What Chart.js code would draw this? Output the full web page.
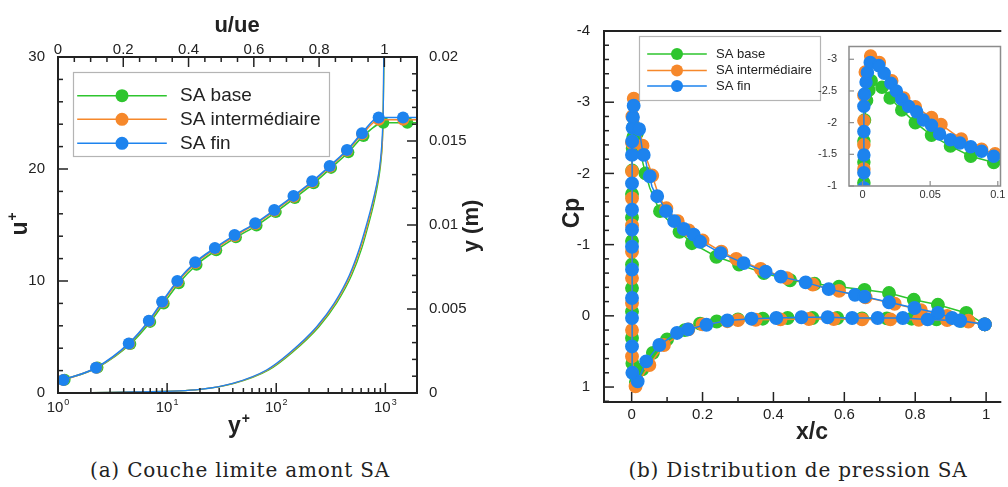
<!DOCTYPE html>
<html>
<head>
<meta charset="utf-8">
<script src="https://cdn.jsdelivr.net/npm/chart.js@4.4.0/dist/chart.umd.min.js"></script>
<style>
  body { margin: 0; background: #fff; width: 1008px; height: 487px; overflow: hidden; position: relative; }
  canvas { position: absolute; }
  #left { left: 0; top: 0; }
  #right { left: 530px; top: 0; }
  #zoom { left: 810px; top: 36px; }
  .cap { position: absolute; top: 458px; font-family: "DejaVu Serif", serif; font-size: 20px; letter-spacing: 0.8px;
         color: #222; white-space: nowrap; transform: translateX(-50%); }
</style>
</head>
<body>
<canvas id="left" width="500" height="445"></canvas>
<canvas id="right" width="478" height="445"></canvas>
<canvas id="zoom" width="198" height="170"></canvas>
<div class="cap" style="left:240px">(a) Couche limite amont SA</div>
<div class="cap" style="left:798px">(b) Distribution de pression SA</div>

<script>
// series names / colours (base, intermédiaire, fin)
var names = ['SA base', 'SA intermédiaire', 'SA fin'];
var colors = ['#2ec52e', '#f6882b', '#1d83ee'];

// (a) u+ vs y+  (last point = end of the flat line, no marker)
var yPlusBase  = [1.15, 2.3, 4.6, 7.0, 9.3, 12.8, 18.6, 28.2, 42.7, 66, 99, 148, 220, 318, 458, 630, 958, 1590, 1950];
var uPlusBase  = [1.18, 2.28, 4.38, 6.35, 8.0, 9.8, 11.45, 12.75, 13.9, 14.95, 16.15, 17.42, 18.72, 20.1, 21.5, 22.95, 24.13, 24.13, 24.13];
var yPlusInter = [1.12, 2.25, 4.5, 6.85, 9.1, 12.5, 18.2, 27.6, 41.8, 64.5, 96.5, 145, 215, 311, 447, 614, 872, 1460, 1950];
var uPlusInter = [1.16, 2.25, 4.4, 6.42, 8.1, 9.93, 11.6, 12.88, 14.02, 15.08, 16.27, 17.53, 18.83, 20.2, 21.63, 23.1, 24.4, 24.4, 24.4];
var yPlusFin   = [1.12, 2.23, 4.45, 6.8, 9.0, 12.4, 18.1, 27.4, 41.5, 64.2, 96, 144, 214, 309, 445, 611, 868, 1453, 1950];
var uPlusFin   = [1.16, 2.26, 4.43, 6.46, 8.15, 10.0, 11.67, 12.95, 14.1, 15.15, 16.34, 17.6, 18.9, 20.27, 21.7, 23.2, 24.6, 24.6, 24.6];

// (a) velocity profile u/ue vs y (m)
var yProfile = [0, 0.00006, 0.00021, 0.00057, 0.00137, 0.00238, 0.00393, 0.00536, 0.00702, 0.00863, 0.0100, 0.0113, 0.01268, 0.01387, 0.01548, 0.01744, 0.02];
var uueBase  = [0, 0.229, 0.435, 0.54, 0.646, 0.716, 0.799, 0.854, 0.9, 0.931, 0.951, 0.968, 0.982, 0.99, 0.995, 0.997, 0.999];
var uueInter = [0, 0.229, 0.434, 0.537, 0.642, 0.712, 0.795, 0.85, 0.896, 0.927, 0.948, 0.965, 0.98, 0.989, 0.995, 0.997, 0.998];
var uueFin   = [0, 0.229, 0.434, 0.535, 0.639, 0.709, 0.792, 0.847, 0.893, 0.924, 0.945, 0.963, 0.979, 0.988, 0.994, 0.997, 0.998];

// (b) Cp along the profile: lower surface TE -> LE, leading edge, upper surface LE -> TE
var xcBase = [0.996, 0.93, 0.86, 0.79, 0.72, 0.65, 0.58, 0.51, 0.44, 0.37, 0.3, 0.24, 0.193, 0.15, 0.1, 0.06, 0.03, 0.012,
  0.002, 0.001, 0.001, 0.001, 0.001, 0.001, 0.001, 0.001, 0.0015, 0.003, 0.0047, 0.0064,
  0.0144, 0.0204, 0.029, 0.039, 0.051, 0.065, 0.08, 0.097, 0.135, 0.17, 0.239, 0.303, 0.373, 0.447, 0.516, 0.585, 0.657, 0.726, 0.796, 0.864, 0.944, 0.996];
var cpBase = [0.12, 0.07, 0.05, 0.04, 0.035, 0.035, 0.03, 0.03, 0.03, 0.04, 0.05, 0.08, 0.11, 0.2, 0.33, 0.52, 0.75, 0.93,
  0.665, 0.31, -0.06, -0.39, -0.72, -1.05, -1.38, -1.71, -2.04, -2.35, -2.51, -2.66,
  -2.56, -2.39, -2.2, -2.0, -1.8, -1.63, -1.47, -1.37, -1.18, -1.02, -0.83, -0.72, -0.6, -0.5, -0.45, -0.41, -0.365, -0.32, -0.225, -0.155, -0.04, 0.12];
var xcInter = [0.996, 0.95, 0.89, 0.81, 0.73, 0.65, 0.57, 0.5, 0.42, 0.35, 0.3, 0.27, 0.2, 0.16, 0.091, 0.05, 0.011,
  0.001, 0.001, 0.001, 0.001, 0.001, 0.001, 0.001, 0.001, 0.001, 0.002, 0.006,
  0.0124, 0.0216, 0.0305, 0.039, 0.051, 0.058, 0.073, 0.088, 0.098, 0.13, 0.161, 0.2, 0.253, 0.295, 0.364, 0.438, 0.511, 0.585, 0.66, 0.742, 0.816, 0.89, 0.95, 0.996];
var cpInter = [0.12, 0.08, 0.06, 0.055, 0.05, 0.05, 0.045, 0.045, 0.05, 0.055, 0.06, 0.075, 0.12, 0.19, 0.41, 0.69, 0.99,
  0.57, 0.2, -0.18, -0.53, -0.9, -1.27, -1.65, -2.03, -2.43, -2.8, -3.05,
  -2.95, -2.66, -2.39, -2.25, -2.08, -1.97, -1.74, -1.58, -1.51, -1.33, -1.2, -1.06, -0.9, -0.8, -0.66, -0.53, -0.44, -0.35, -0.26, -0.17, -0.08, 0.0, 0.07, 0.12];
var xcFin = [0.996, 0.925, 0.835, 0.765, 0.694, 0.622, 0.553, 0.479, 0.408, 0.338, 0.27, 0.211, 0.159, 0.128, 0.078, 0.041, 0.017, 0.002,
  0.001, 0.001, 0.001, 0.001, 0.001, 0.001, 0.001, 0.001, 0.001, 0.0015, 0.0026, 0.0036, 0.0057,
  0.012, 0.016, 0.021, 0.025, 0.029, 0.034, 0.04, 0.045, 0.051, 0.057, 0.065, 0.072, 0.08, 0.088, 0.097, 0.12,
  0.147, 0.175, 0.193, 0.251, 0.316, 0.378, 0.421, 0.491, 0.556, 0.63, 0.657, 0.726, 0.798, 0.864, 0.904, 0.927, 0.996];
var cpFin = [0.12, 0.07, 0.05, 0.03, 0.03, 0.03, 0.02, 0.02, 0.03, 0.04, 0.065, 0.126, 0.19, 0.24, 0.41, 0.64, 0.92, 0.80,
  0.43, 0.03, -0.25, -0.65, -0.97, -1.21, -1.49, -1.86, -2.26, -2.45, -2.64, -2.79, -2.95,
  -2.9, -2.78, -2.62, -2.5, -2.37, -2.26, -2.17, -2.04, -1.96, -1.82, -1.73, -1.68, -1.62, -1.55, -1.47, -1.33,
  -1.22, -1.14, -1.04, -0.88, -0.74, -0.62, -0.55, -0.47, -0.375, -0.295, -0.27, -0.19, -0.11, -0.04, 0.03, 0.065, 0.12];

// tick labels
var yPlusTicks = [1, 10, 100, 1000];
var uueTicks = [0, 0.2, 0.4, 0.6, 0.8, 1];
var uPlusTicks = [0, 10, 20, 30];
var ymTicks = [0, 0.005, 0.01, 0.015, 0.02];
var xcTicks = [0, 0.2, 0.4, 0.6, 0.8, 1];
var cpTicks = [-4, -3, -2, -1, 0, 1];
var zoomXTicks = [0, 0.05, 0.1];
var zoomCpTicks = [-3, -2.5, -2, -1.5, -1];

var FONT = '"Liberation Sans", Arial, sans-serif';
var INK = '#222';

function pts(xs, ys) {
  return xs.map(function (x, i) { return { x: x, y: ys[i] }; });
}
function noLastPoint(r) {
  return function (c) { return c.dataIndex === c.dataset.data.length - 1 ? 0 : r; };
}
// main view: skip markers along the dense upper leading edge (shown in the zoom)
function skipDense(r) {
  return function (c) {
    var p = c.raw;
    if (p && p.x > 0.008 && p.x < 0.1 && p.y < -1.3 && c.dataIndex % 3) return 0;
    return r;
  };
}
function steps(a, b, st, skip) {
  var out = [];
  for (var i = 0; a + i * st <= b + 1e-9; i++) {
    var v = +(a + i * st).toFixed(6);
    if (!skip.some(function (s) { return Math.abs(s - v) < 1e-9; })) out.push(v);
  }
  return out;
}
function logMinor(max) {
  var out = [];
  yPlusTicks.forEach(function (d) {
    for (var k = 2; k <= 9; k++) if (d * k <= max) out.push(d * k);
  });
  return out;
}
function fixed(list) {
  return function (s) { s.ticks = list.map(function (v) { return { value: v }; }); };
}
function size(w, h) {
  return function (s) { if (w != null) s.width = w; if (h != null) s.height = h; };
}
function label(v) { return String(v); }

function supText(ctx, base, sup, px, x, y, rot, bold) {
  ctx.save();
  ctx.translate(x, y);
  ctx.rotate(rot || 0);
  var f1 = (bold ? 'bold ' : '') + px + 'px ' + FONT;
  var f2 = (bold ? 'bold ' : '') + Math.round(px * 0.62) + 'px ' + FONT;
  ctx.font = f1;
  var w1 = ctx.measureText(base).width;
  ctx.font = f2;
  var w2 = sup ? ctx.measureText(sup).width + 1 : 0;
  var x0 = -(w1 + w2) / 2;
  ctx.fillStyle = INK;
  ctx.textAlign = 'left';
  ctx.textBaseline = 'middle';
  ctx.font = f1;
  ctx.fillText(base, x0, 0);
  if (sup) {
    ctx.font = f2;
    ctx.fillText(sup, x0 + w1 + 1, -px * 0.36);
  }
  ctx.restore();
}

// frame, inward ticks, titles and legend drawn like the original plotting tool
var framePlugin = {
  id: 'frame',
  beforeDraw: function (chart, args, o) {
    if (!o.fill) return;
    var a = chart.chartArea, ctx = chart.ctx;
    ctx.save();
    ctx.fillStyle = o.fill;
    ctx.fillRect(a.left, a.top, a.right - a.left, a.bottom - a.top);
    ctx.restore();
  },
  afterDraw: function (chart, args, o) {
    var ctx = chart.ctx, a = chart.chartArea;
    ctx.save();
    ctx.strokeStyle = o.color;
    ctx.lineWidth = o.tickWidth;
    (o.ticks || []).forEach(function (t) {
      var s = chart.scales[t.scale];
      [[t.major, o.majorLen], [t.minor || [], o.minorLen]].forEach(function (g) {
        g[0].forEach(function (v) {
          var p = s.getPixelForValue(v);
          ctx.beginPath();
          if (t.side === 'left') { if (p < a.top - 1 || p > a.bottom + 1) return; ctx.moveTo(a.left, p); ctx.lineTo(a.left + g[1], p); }
          if (t.side === 'right') { if (p < a.top - 1 || p > a.bottom + 1) return; ctx.moveTo(a.right, p); ctx.lineTo(a.right - g[1], p); }
          if (t.side === 'bottom') { if (p < a.left - 1 || p > a.right + 1) return; ctx.moveTo(p, a.bottom); ctx.lineTo(p, a.bottom - g[1]); }
          if (t.side === 'top') { if (p < a.left - 1 || p > a.right + 1) return; ctx.moveTo(p, a.top); ctx.lineTo(p, a.top + g[1]); }
          ctx.stroke();
        });
      });
    });
    ctx.lineWidth = o.width;
    ctx.lineCap = 'square';
    ctx.beginPath();
    o.sides.forEach(function (sd) {
      if (sd === 'left') { ctx.moveTo(a.left, a.top); ctx.lineTo(a.left, a.bottom); }
      if (sd === 'right') { ctx.moveTo(a.right, a.top); ctx.lineTo(a.right, a.bottom); }
      if (sd === 'top') { ctx.moveTo(a.left, a.top); ctx.lineTo(a.right, a.top); }
      if (sd === 'bottom') { ctx.moveTo(a.left, a.bottom); ctx.lineTo(a.right, a.bottom); }
    });
    ctx.stroke();

    // log axis labels 10^n
    if (o.logLabels) {
      var s = chart.scales[o.logLabels.scale];
      yPlusTicks.forEach(function (v) {
        supText(ctx, '10', String(Math.round(Math.log10(v))), 15, s.getPixelForValue(v), o.logLabels.y, 0, false);
      });
    }

    (o.titles || []).forEach(function (t) {
      supText(ctx, t.text, t.sup, t.px, t.x, t.y, t.rot, true);
    });

    if (o.legend) {
      var L = o.legend;
      ctx.fillStyle = '#fff';
      ctx.fillRect(L.x, L.y, L.w, L.h);
      ctx.strokeStyle = '#b4b4b4';
      ctx.lineWidth = 1.2;
      ctx.strokeRect(L.x + 0.5, L.y + 0.5, L.w, L.h);
      names.forEach(function (n, i) {
        var y = L.rows[i];
        ctx.strokeStyle = colors[i];
        ctx.lineWidth = 1.6;
        ctx.beginPath();
        ctx.moveTo(L.line[0], y);
        ctx.lineTo(L.line[1], y);
        ctx.stroke();
        ctx.fillStyle = colors[i];
        ctx.beginPath();
        ctx.arc((L.line[0] + L.line[1]) / 2, y, L.r, 0, Math.PI * 2);
        ctx.fill();
        ctx.fillStyle = INK;
        ctx.font = L.px + 'px ' + FONT;
        ctx.textAlign = 'left';
        ctx.textBaseline = 'middle';
        ctx.fillText(n, L.text, y);
      });
    }
    ctx.restore();
  }
};

var tickFont = { family: FONT, size: 15 };
var common = {
  responsive: false,
  animation: false,
  devicePixelRatio: 1,
  events: [],
  layout: { padding: 0 },
  elements: {
    point: { pointStyle: 'circle', borderWidth: 0, hoverRadius: 0 },
    line: { borderWidth: 1.6 }
  }
};
function opts(extra) { return Object.assign({}, common, extra); }
function hidden() { return { display: false }; }

// ---------- (a) boundary layer ----------
var leftSets = [];
[[yPlusBase, uPlusBase, uueBase], [yPlusInter, uPlusInter, uueInter], [yPlusFin, uPlusFin, uueFin]].forEach(function (s, i) {
  leftSets.push({
    label: names[i], data: pts(s[0], s[1]), xAxisID: 'x', yAxisID: 'y',
    borderColor: colors[i], backgroundColor: colors[i], pointRadius: noLastPoint(6),
    cubicInterpolationMode: 'monotone', order: 3 - i
  });
  leftSets.push({
    data: pts(s[2], yProfile), xAxisID: 'x2', yAxisID: 'y2',
    borderColor: colors[i], backgroundColor: colors[i], pointRadius: 0, borderWidth: 1.3,
    cubicInterpolationMode: 'monotone', order: 6 - i
  });
});

new Chart(document.getElementById('left'), {
  type: 'line',
  data: { datasets: leftSets },
  options: opts({
    plugins: {
      legend: { display: false }, tooltip: { enabled: false },
      frame: {
        color: INK, width: 2, tickWidth: 1.5, majorLen: 10, minorLen: 5,
        sides: ['left', 'right', 'top', 'bottom'],
        ticks: [
          { scale: 'y', side: 'left', major: uPlusTicks, minor: steps(0, 30, 2, uPlusTicks) },
          { scale: 'y2', side: 'right', major: ymTicks, minor: steps(0, 0.02, 0.001, ymTicks) },
          { scale: 'x2', side: 'top', major: uueTicks, minor: steps(0, 1.1, 0.05, uueTicks) },
          { scale: 'x', side: 'bottom', major: yPlusTicks, minor: logMinor(1950) }
        ],
        logLabels: { scale: 'x', y: 408 },
        titles: [
          { text: 'u/ue', px: 22, x: 237, y: 26 },
          { text: 'u', sup: '+', px: 23, x: 21, y: 224, rot: -Math.PI / 2 },
          { text: 'y', sup: '+', px: 23, x: 239, y: 427 },
          { text: 'y (m)', px: 22, x: 472, y: 226, rot: -Math.PI / 2 }
        ],
        legend: { x: 73, y: 72, w: 256, h: 84, rows: [95.7, 119.3, 143.3], line: [78, 166], r: 6.5, text: 180, px: 19 }
      }
    },
    scales: {
      x: { type: 'logarithmic', position: 'bottom', min: 1, max: 1950,
           grid: hidden(), border: hidden(), ticks: { display: false },
           afterBuildTicks: fixed(yPlusTicks), afterFit: size(null, 52) },
      x2: { type: 'linear', position: 'top', min: 0, max: 1.1,
            grid: hidden(), border: hidden(),
            ticks: { font: tickFont, color: INK, padding: -10, maxRotation: 0, autoSkip: false, callback: label },
            afterBuildTicks: fixed(uueTicks), afterFit: size(null, 57) },
      y: { type: 'linear', position: 'left', min: 0, max: 30,
           grid: hidden(), border: hidden(),
           ticks: { font: tickFont, color: INK, padding: 5, callback: label },
           afterBuildTicks: fixed(uPlusTicks), afterFit: size(58, null) },
      y2: { type: 'linear', position: 'right', min: 0, max: 0.02,
            grid: hidden(), border: hidden(),
            ticks: { font: tickFont, color: INK, padding: 4, callback: label },
            afterBuildTicks: fixed(ymTicks), afterFit: size(83, null) }
    }
  }),
  plugins: [framePlugin]
});

// ---------- (b) pressure distribution ----------
function cpSets(r) {
  return [[xcBase, cpBase], [xcInter, cpInter], [xcFin, cpFin]].map(function (s, i) {
    return {
      label: names[i], data: pts(s[0], s[1]),
      borderColor: colors[i], backgroundColor: colors[i], pointRadius: r,
      borderWidth: 1.5, tension: 0, order: 3 - i
    };
  });
}

new Chart(document.getElementById('right'), {
  type: 'line',
  data: { datasets: cpSets(skipDense(6.2)) },
  options: opts({
    layout: { padding: { top: 31 } },
    plugins: {
      legend: { display: false }, tooltip: { enabled: false },
      frame: {
        color: INK, width: 2, tickWidth: 1.5, majorLen: 10, minorLen: 5,
        sides: ['left', 'bottom', 'top'],
        ticks: [
          { scale: 'y', side: 'left', major: cpTicks, minor: steps(-4, 1.2, 0.2, cpTicks) },
          { scale: 'x', side: 'bottom', major: xcTicks, minor: steps(0.1, 1, 0.2, xcTicks) }
        ],
        titles: [
          { text: 'Cp', px: 23, x: 43, y: 213, rot: -Math.PI / 2 },
          { text: 'x/c', px: 23, x: 282, y: 433 }
        ],
        legend: { x: 109, y: 36, w: 181, h: 64, rows: [54, 70.5, 86], line: [118, 176], r: 6, text: 186, px: 13 }
      }
    },
    scales: {
      x: { type: 'linear', position: 'bottom', min: -0.078, max: 1.04,
           grid: hidden(), border: hidden(),
           ticks: { font: tickFont, color: INK, padding: -4, maxRotation: 0, autoSkip: false, callback: label },
           afterBuildTicks: fixed(xcTicks), afterFit: size(null, 43) },
      y: { type: 'linear', position: 'left', reverse: true, min: -4, max: 1.21,
           grid: hidden(), border: hidden(),
           ticks: { font: tickFont, color: INK, padding: 6, callback: label },
           afterBuildTicks: fixed(cpTicks), afterFit: size(74, null) }
    }
  }),
  plugins: [framePlugin]
});

// ---------- (b) leading-edge zoom ----------
var smallFont = { family: FONT, size: 11 };
new Chart(document.getElementById('zoom'), {
  type: 'line',
  data: { datasets: cpSets(6) },
  options: opts({
    layout: { padding: { top: 10, right: 7 } },
    plugins: {
      legend: { display: false }, tooltip: { enabled: false },
      frame: {
        fill: '#fff', color: '#8c8c8c', width: 1.5, tickWidth: 1.2, majorLen: 5, minorLen: 3,
        sides: ['left', 'right', 'top', 'bottom'],
        ticks: [
          { scale: 'y', side: 'left', major: zoomCpTicks },
          { scale: 'x', side: 'bottom', major: zoomXTicks }
        ]
      }
    },
    scales: {
      x: { type: 'linear', position: 'bottom', min: -0.01, max: 0.102,
           grid: hidden(), border: hidden(),
           ticks: { font: smallFont, color: '#333', padding: -6, maxRotation: 0, autoSkip: false, callback: label },
           afterBuildTicks: fixed(zoomXTicks), afterFit: size(null, 20) },
      y: { type: 'linear', position: 'left', reverse: true, min: -3.2, max: -1,
           grid: hidden(), border: hidden(),
           ticks: { font: smallFont, color: '#333', padding: 4, callback: label },
           afterBuildTicks: fixed(zoomCpTicks), afterFit: size(39, null) }
    }
  }),
  plugins: [framePlugin]
});
</script>
</body>
</html>
